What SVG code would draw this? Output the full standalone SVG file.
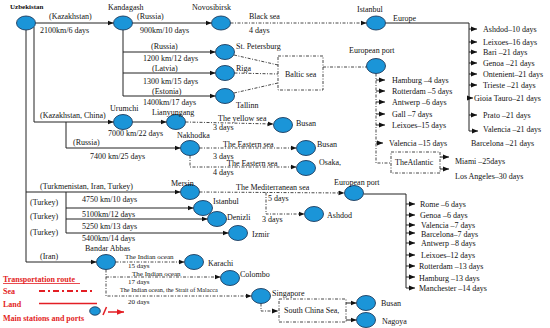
<svg xmlns="http://www.w3.org/2000/svg" width="550" height="328" viewBox="0 0 550 328">
<style>
.t{font-family:"Liberation Serif","Times New Roman",serif;font-size:8px;fill:#111}
.s7{font-size:7px}
.s6{font-size:6.2px}
.b{font-weight:bold}
.r{fill:#e31e24;font-weight:bold;font-size:8px}
.n{fill:#1b95d8;stroke:#1d3b5e;stroke-width:0.9}
.l{stroke:#222;stroke-width:1;fill:none}
.d{stroke:#333;stroke-width:0.9;fill:none;stroke-dasharray:3,1.5,1,1.5}
.a{marker-end:url(#ah)}
</style>
<defs>
<marker id="ah" viewBox="0 0 6 6" refX="6" refY="3" markerWidth="6" markerHeight="6" orient="auto" markerUnits="userSpaceOnUse"><path d="M0,0.6 L6,3 L0,5.4z" fill="#111"/></marker>
<marker id="rh" viewBox="0 0 6 6" refX="6" refY="3" markerWidth="7" markerHeight="7" orient="auto" markerUnits="userSpaceOnUse"><path d="M0,0.6 L6,3 L0,5.4z" fill="#e31e24"/></marker>
</defs>
<rect width="550" height="328" fill="#fff"/>

<g id="connectors">
<line class="l a" x1="35.5" y1="23" x2="113.5" y2="23"/>
<line class="l a" x1="132.5" y1="23" x2="211.5" y2="23"/>
<line class="d a" x1="230.5" y1="23" x2="366.5" y2="23"/>
<path class="l a" d="M123,30 V96 H215.5"/>
<line class="l a" x1="123" y1="52" x2="215.5" y2="52"/>
<line class="l a" x1="123" y1="73" x2="215.5" y2="73"/>
<line class="d" x1="234" y1="55" x2="278" y2="65"/>
<line class="d" x1="234.5" y1="73" x2="278" y2="74"/>
<line class="d" x1="234" y1="93" x2="278" y2="83"/>
<rect class="d" x="278" y="56" width="45" height="34"/>
<line class="d" x1="323" y1="67" x2="367" y2="67"/>
<path class="d" d="M376,73.5 V163 H391"/>
<line class="l a" x1="376" y1="80" x2="385" y2="80"/>
<line class="l a" x1="376" y1="91" x2="385" y2="91"/>
<line class="l a" x1="376" y1="102" x2="385" y2="102"/>
<line class="l a" x1="376" y1="114" x2="385" y2="114"/>
<line class="l a" x1="376" y1="125" x2="385" y2="125"/>
<line class="l a" x1="376" y1="143" x2="383" y2="143"/>
<rect class="d" x="391" y="152" width="49" height="21"/>
<line class="l a" x1="440" y1="157" x2="449" y2="157"/>
<line class="l a" x1="440" y1="169" x2="449" y2="169"/>
<path class="l a" d="M385.5,23 H469 V131 H478"/>
<line class="l a" x1="469" y1="29" x2="477" y2="29"/>
<line class="l a" x1="469" y1="42" x2="477" y2="42"/>
<line class="l a" x1="469" y1="52" x2="477" y2="52"/>
<line class="l a" x1="469" y1="63" x2="477" y2="63"/>
<line class="l a" x1="469" y1="74" x2="477" y2="74"/>
<line class="l a" x1="469" y1="85" x2="477" y2="85"/>
<line class="l a" x1="469" y1="98" x2="473" y2="98"/>
<line class="l a" x1="469" y1="115" x2="477" y2="115"/>
<path class="l a" d="M34,27 V122 H113.5"/>
<path class="l a" d="M26,30 V262 H96.5"/>
<path class="l a" d="M66,122 V148 H180.5"/>
<line class="l a" x1="132.5" y1="122" x2="166.5" y2="122"/>
<line class="d a" x1="185.5" y1="122" x2="273.5" y2="124"/>
<line class="d a" x1="199.5" y1="148" x2="296.5" y2="148"/>
<path class="d a" d="M190,155.5 V167 H296.5"/>
<line class="l a" x1="26" y1="192" x2="180.5" y2="192"/>
<path class="l a" d="M66,192 V233 H228.5"/>
<line class="l a" x1="66" y1="208" x2="193.5" y2="208"/>
<line class="l a" x1="66" y1="219" x2="207.5" y2="219"/>
<line class="d a" x1="199.5" y1="192" x2="344.5" y2="193"/>
<path class="d a" d="M266,192.5 V214 H304.5"/>
<path class="l a" d="M363.5,194 H406 V288 H415"/>
<line class="l a" x1="406" y1="204" x2="415" y2="204"/>
<line class="l a" x1="406" y1="215" x2="415" y2="215"/>
<line class="l a" x1="406" y1="225" x2="415" y2="225"/>
<line class="l a" x1="406" y1="233" x2="415" y2="233"/>
<line class="l a" x1="406" y1="243" x2="415" y2="243"/>
<line class="l a" x1="406" y1="255" x2="415" y2="255"/>
<line class="l a" x1="406" y1="266" x2="415" y2="266"/>
<line class="l a" x1="406" y1="277" x2="415" y2="277"/>
<line class="d a" x1="115.5" y1="262" x2="184.5" y2="262"/>
<path class="d a" d="M106,269.5 V296 H251.5"/>
<line class="d a" x1="106" y1="277" x2="220.5" y2="277"/>
<path class="d a" d="M261,303.5 V311 H278"/>
<rect class="d" x="279" y="299" width="67" height="23"/>
<line class="l a" x1="346" y1="303" x2="356.5" y2="303"/>
<line class="l a" x1="346" y1="320" x2="356.5" y2="320"/>
</g>

<g id="uzbekistan"><ellipse class="n" cx="26" cy="23" rx="9.5" ry="7"/><text class="t b s7" x="10" y="9">Uzbekistan</text></g>
<g id="kandagash"><ellipse class="n" cx="123" cy="23" rx="9.5" ry="7"/><text class="t" x="108" y="10">Kandagash</text></g>
<g id="novosibirsk"><ellipse class="n" cx="221" cy="23" rx="9.5" ry="7"/><text class="t" x="192" y="9.5">Novosibirsk</text></g>
<g id="istanbul"><ellipse class="n" cx="376" cy="23" rx="9.5" ry="7"/><text class="t" x="357" y="11.5">Istanbul</text><text class="t" x="393" y="21">Europe</text></g>
<g id="st-petersburg"><ellipse class="n" cx="225" cy="52" rx="9.5" ry="7.5"/><text class="t" x="236" y="49">St. Petersburg</text></g>
<g id="riga"><ellipse class="n" cx="225" cy="73" rx="9.5" ry="7.5"/><text class="t" x="236" y="70.5">Riga</text></g>
<g id="tallinn"><ellipse class="n" cx="225" cy="96" rx="9.5" ry="7.5"/><text class="t" x="236" y="108">Tallinn</text></g>
<g id="baltic-sea"><text class="t" x="285" y="76.5">Baltic sea</text></g>
<g id="european-port-1"><ellipse class="n" cx="376" cy="66" rx="9.5" ry="7.5"/><text class="t" x="349" y="52.5">European port</text></g>
<g id="atlantic"><text class="t" x="395" y="165">TheAtlantic</text></g>
<g id="urumchi"><ellipse class="n" cx="123" cy="122" rx="9.5" ry="7.5"/><text class="t" x="110" y="110.5">Urumchi</text></g>
<g id="lianyungang"><ellipse class="n" cx="176" cy="122" rx="9.5" ry="7.5"/><text class="t" x="152" y="114.5">Lianyungang</text></g>
<g id="busan-1"><ellipse class="n" cx="283" cy="125" rx="9.5" ry="7.5"/><text class="t" x="296" y="125.5">Busan</text></g>
<g id="nakhodka"><ellipse class="n" cx="190" cy="148" rx="9.5" ry="7.5"/><text class="t" x="177" y="137.5">Nakhodka</text></g>
<g id="busan-2"><ellipse class="n" cx="306" cy="148" rx="9.5" ry="7.5"/><text class="t" x="317" y="146.5">Busan</text></g>
<g id="osaka"><ellipse class="n" cx="306" cy="168" rx="9.5" ry="7.5"/><text class="t" x="319" y="164.5">Osaka,</text></g>
<g id="mersin"><ellipse class="n" cx="190" cy="192" rx="9.5" ry="7.5"/><text class="t" x="171" y="185.5">Mersin</text></g>
<g id="european-port-2"><ellipse class="n" cx="354" cy="193" rx="9.5" ry="7.5"/><text class="t" x="334" y="184.5">European port</text></g>
<g id="istanbul-2"><ellipse class="n" cx="203" cy="208" rx="9.5" ry="7.5"/><text class="t" x="213" y="203.5">Istanbul</text></g>
<g id="denizli"><ellipse class="n" cx="217" cy="219" rx="9.5" ry="7.5"/><text class="t" x="227" y="219.5">Denizli</text></g>
<g id="izmir"><ellipse class="n" cx="238" cy="233" rx="9.5" ry="7.5"/><text class="t" x="252" y="236.5">Izmir</text></g>
<g id="ashdod"><ellipse class="n" cx="314" cy="214" rx="9.5" ry="7.5"/><text class="t" x="327" y="217.5">Ashdod</text></g>
<g id="bandar-abbas"><ellipse class="n" cx="106" cy="262" rx="9.5" ry="7.5"/><text class="t" x="85" y="250.5">Bandar Abbas</text></g>
<g id="karachi"><ellipse class="n" cx="194" cy="262" rx="9.5" ry="7.5"/><text class="t" x="208" y="265.5">Karachi</text></g>
<g id="colombo"><ellipse class="n" cx="230" cy="278" rx="9.5" ry="7.5"/><text class="t" x="240" y="276.5">Colombo</text></g>
<g id="singapore"><ellipse class="n" cx="261" cy="296" rx="9.5" ry="7.5"/><text class="t" x="272" y="295.5">Singapore</text></g>
<g id="south-china-sea"><text class="t" x="284" y="312.5">South China Sea,</text></g>
<g id="busan-3"><ellipse class="n" cx="366" cy="303" rx="9.5" ry="7.5"/><text class="t" x="381" y="305.5">Busan</text></g>
<g id="nagoya"><ellipse class="n" cx="366" cy="320" rx="9.5" ry="7.5"/><text class="t" x="382" y="324">Nagoya</text></g>

<g id="route-labels">
<text class="t" x="49" y="18.5">(Kazakhstan)</text>
<text class="t" x="40" y="33">2100km/6 days</text>
<text class="t" x="137" y="18.5">(Russia)</text>
<text class="t" x="140" y="33">900km/10 days</text>
<text class="t" x="249" y="18.5">Black sea</text>
<text class="t" x="249" y="33">4 days</text>
<text class="t" x="151" y="48.5">(Russia)</text>
<text class="t" x="143" y="60.5">1200 km/12 days</text>
<text class="t" x="152" y="70.5">(Latvia)</text>
<text class="t" x="143" y="83.5">1300 km/15 days</text>
<text class="t" x="152" y="93.5">(Estonia)</text>
<text class="t" x="143" y="104.5">1400km/17 days</text>
<text class="t" x="40" y="117.5">(Kazakhstan, China)</text>
<text class="t" x="108" y="135.5">7000 km/22 days</text>
<text class="t" x="218" y="120.5">The yellow sea</text>
<text class="t" x="213" y="129.5">3 days</text>
<text class="t" x="73" y="144.5">(Russia)</text>
<text class="t" x="90" y="158.5">7400 km/25 days</text>
<text class="t" x="223" y="147">The Eastern sea</text>
<text class="t" x="213" y="158.5">3 days</text>
<text class="t" x="227" y="165.5">The Eastern sea</text>
<text class="t" x="213" y="174.5">4 days</text>
<text class="t" x="40" y="189">(Turkmenistan, Iran, Turkey)</text>
<text class="t" x="236" y="189.5">The Mediterranean sea</text>
<text class="t" x="268" y="200.5">5 days</text>
<text class="t" x="262" y="221.5">3 days</text>
<text class="t" x="30" y="205">(Turkey)</text>
<text class="t" x="30" y="219">(Turkey)</text>
<text class="t" x="30" y="235">(Turkey)</text>
<text class="t" x="82" y="202">4750 km/10 days</text>
<text class="t" x="82" y="216.5">5100km/12 days</text>
<text class="t" x="82" y="228.5">5250 km/13 days</text>
<text class="t" x="82" y="240.5">5400km/14 days</text>
<text class="t" x="40" y="258.5">(Iran)</text>
<text class="t s7" x="125" y="259">The Indian ocean</text>
<text class="t s7" x="128" y="268">15 days</text>
<text class="t s7" x="132" y="275.5">The Indian ocean</text>
<text class="t s7" x="128" y="283.5">17 days</text>
<text class="t s6" x="120" y="292">The Indian ocean, the Strait of Malacca</text>
<text class="t s7" x="128" y="304">20 days</text>
</g>

<g id="europe-list">
<text class="t" x="483" y="31.5">Ashdod–10 days</text>
<text class="t" x="483" y="44.5">Leixoes–16 days</text>
<text class="t" x="483" y="54.5">Bari –21 days</text>
<text class="t" x="483" y="65.5">Genoa –21 days</text>
<text class="t" x="483" y="76.5">Ontenient–21 days</text>
<text class="t" x="483" y="87.5">Trieste –21 days</text>
<text class="t" x="474" y="100.5">Gioia Tauro–21 days</text>
<text class="t" x="483" y="117.5">Prato –21 days</text>
<text class="t" x="483" y="131.5">Valencia –21 days</text>
<text class="t" x="471" y="145.5">Barcelona –21 days</text>
</g>
<g id="baltic-list">
<text class="t" x="392" y="82.5">Hamburg –4 days</text>
<text class="t" x="392" y="93.5">Rotterdam –5 days</text>
<text class="t" x="392" y="104.5">Antwerp –6 days</text>
<text class="t" x="392" y="116.5">Gall –7 days</text>
<text class="t" x="392" y="127.5">Leixoes–15 days</text>
<text class="t" x="389" y="145.5">Valencia –15 days</text>
<text class="t" x="455" y="164">Miami –25days</text>
<text class="t" x="455" y="178.5">Los Angeles–30 days</text>
</g>
<g id="med-list">
<text class="t" x="420" y="207">Rome –6 days</text>
<text class="t" x="420" y="217.5">Genoa –6 days</text>
<text class="t" x="421" y="228">Valencia –7 days</text>
<text class="t" x="421" y="236.5">Barcelona–7 days</text>
<text class="t" x="421" y="246">Antwerp –8 days</text>
<text class="t" x="421" y="257.5">Leixoes–12 days</text>
<text class="t" x="419" y="269">Rotterdam –13 days</text>
<text class="t" x="419" y="281">Hamburg –13 days</text>
<text class="t" x="419" y="290.5">Manchester –14 days</text>
</g>

<g id="legend">
<text class="t r" x="3" y="281.5">Transportation route</text>
<line x1="3" y1="283.5" x2="80" y2="283.5" stroke="#e31e24" stroke-width="0.8"/>
<text class="t r" x="3" y="294">Sea</text>
<line x1="39" y1="291" x2="94" y2="291" stroke="#e31e24" stroke-width="2" stroke-dasharray="6,3,2,3"/>
<text class="t r" x="3" y="307">Land</text>
<line x1="39" y1="303.5" x2="97" y2="303.5" stroke="#e31e24" stroke-width="1.4"/>
<text class="t r" x="3" y="320.5">Main stations and ports</text>
<ellipse class="n" cx="95" cy="311" rx="5.3" ry="4.2"/>
<line x1="103" y1="315" x2="106.5" y2="307" stroke="#e31e24" stroke-width="1.5"/>
<line x1="108" y1="312" x2="124" y2="312" stroke="#e31e24" stroke-width="1.5" marker-end="url(#rh)"/>
</g>
</svg>
